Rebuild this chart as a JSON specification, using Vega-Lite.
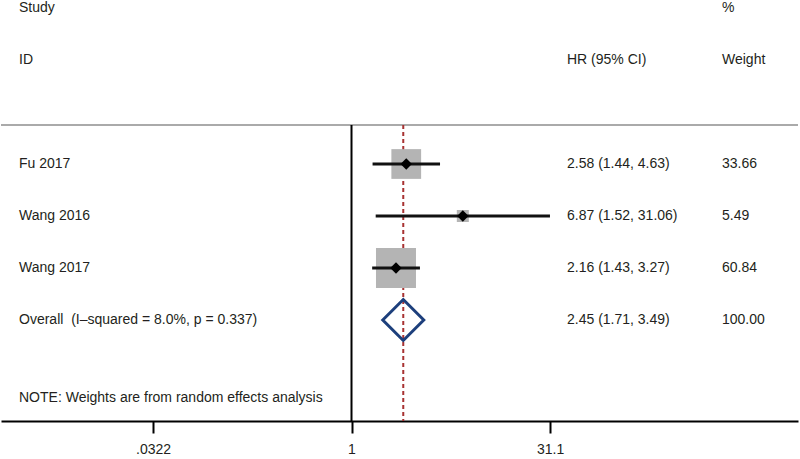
{
  "$schema": "https://vega.github.io/schema/vega-lite/v6.json",
  "width": 797,
  "height": 421,
  "padding": 0,
  "autosize": {"type": "pad"},
  "background": "white",
  "config": {
    "view": {"stroke": null},
    "font": "Liberation Sans",
    "text": {"font": "Liberation Sans", "fontSize": 14, "color": "#231f20", "align": "left", "baseline": "middle"}
  },
  "datasets": {
    "studies": [
      {"study": "Fu 2017", "row": 3, "hr": 2.58, "lo": 1.44, "hi": 4.63, "weight": 33.66},
      {"study": "Wang 2016", "row": 4, "hr": 6.87, "lo": 1.52, "hi": 31.06, "weight": 5.49},
      {"study": "Wang 2017", "row": 5, "hr": 2.16, "lo": 1.43, "hi": 3.27, "weight": 60.84}
    ],
    "overall": [
      {"study": "Overall", "row": 6, "hr": 2.45, "lo": 1.71, "hi": 3.49, "weight": 100}
    ],
    "table": [
      {"row": 0, "left": "Study", "ci": "", "weight": "%"},
      {"row": 1, "left": "ID", "ci": "HR (95% CI)", "weight": "Weight"},
      {"row": 3, "left": "Fu 2017", "ci": "2.58 (1.44, 4.63)", "weight": "33.66"},
      {"row": 4, "left": "Wang 2016", "ci": "6.87 (1.52, 31.06)", "weight": "5.49"},
      {"row": 5, "left": "Wang 2017", "ci": "2.16 (1.43, 3.27)", "weight": "60.84"},
      {"row": 6, "left": "Overall\u00a0 (I–squared = 8.0%, p = 0.337)", "ci": "2.45 (1.71, 3.49)", "weight": "100.00"},
      {"row": 7.5, "left": "NOTE: Weights are from random effects analysis", "ci": "", "weight": ""}
    ]
  },
  "layer": [
    {
      "data": {"values": [{"line": "separator"}]},
      "mark": {"type": "rule", "color": "#aaaaaa", "strokeWidth": 2},
      "encoding": {
        "y": {"datum": 2.25, "type": "quantitative", "scale": {"domain": [-0.1538, 7.9423], "reverse": true, "nice": false, "zero": false}, "axis": null}
      }
    },
    {
      "data": {"values": [{"line": "null"}]},
      "mark": {"type": "rule", "color": "#000000", "strokeWidth": 2},
      "encoding": {
        "x": {"datum": 1, "type": "quantitative",
          "scale": {"type": "log", "domain": [0.002315, 2276], "nice": false, "zero": false},
          "axis": {"values": [0.0322, 1, 31.1], "labelExpr": "datum.value < 0.05 ? '.0322' : (datum.value == 1 ? '1' : '31.1')", "title": null, "grid": false, "domainColor": "#000000", "domainWidth": 2, "tickColor": "#000000", "tickWidth": 2, "tickSize": 12, "labelFontSize": 14, "labelFont": "Liberation Sans", "labelColor": "#231f20", "labelPadding": 9, "labelFlush": false}},
        "y": {"datum": 2.25, "type": "quantitative", "axis": null},
        "y2": {"datum": 7.9423}
      }
    },
    {
      "data": {"name": "overall"},
      "mark": {"type": "rule", "color": "#a83232", "strokeWidth": 2, "strokeDash": [4, 3]},
      "encoding": {
        "x": {"field": "hr", "type": "quantitative"},
        "y": {"datum": 2.25, "type": "quantitative", "axis": null},
        "y2": {"datum": 7.9423}
      }
    },
    {
      "data": {"name": "studies"},
      "mark": {"type": "point", "shape": "square", "filled": true, "color": "#b4b4b4", "opacity": 1},
      "encoding": {
        "x": {"field": "hr", "type": "quantitative"},
        "y": {"field": "row", "type": "quantitative", "axis": null},
        "size": {"field": "weight", "type": "quantitative", "scale": {"domain": [0, 60.84], "range": [0, 1600]}, "legend": null}
      }
    },
    {
      "data": {"name": "studies"},
      "mark": {"type": "rule", "color": "#111111", "strokeWidth": 3},
      "encoding": {
        "x": {"field": "lo", "type": "quantitative"},
        "x2": {"field": "hi"},
        "y": {"field": "row", "type": "quantitative", "axis": null}
      }
    },
    {
      "data": {"name": "studies"},
      "mark": {"type": "point", "shape": "diamond", "filled": true, "color": "#000000", "opacity": 1, "size": 130},
      "encoding": {
        "x": {"field": "hr", "type": "quantitative"},
        "y": {"field": "row", "type": "quantitative", "axis": null}
      }
    },
    {
      "data": {"name": "overall"},
      "mark": {"type": "point", "shape": "diamond", "filled": false, "stroke": "#1d3f7c", "strokeWidth": 3, "opacity": 1, "size": 1681},
      "encoding": {
        "x": {"field": "hr", "type": "quantitative"},
        "y": {"field": "row", "type": "quantitative", "axis": null}
      }
    },
    {
      "data": {"name": "table"},
      "mark": {"type": "text"},
      "encoding": {
        "x": {"datum": 0.003162, "type": "quantitative"},
        "y": {"field": "row", "type": "quantitative", "axis": null},
        "text": {"field": "left"}
      }
    },
    {
      "data": {"name": "table"},
      "mark": {"type": "text"},
      "encoding": {
        "x": {"datum": 41.72, "type": "quantitative"},
        "y": {"field": "row", "type": "quantitative", "axis": null},
        "text": {"field": "ci"}
      }
    },
    {
      "data": {"name": "table"},
      "mark": {"type": "text"},
      "encoding": {
        "x": {"datum": 610.6, "type": "quantitative"},
        "y": {"field": "row", "type": "quantitative", "axis": null},
        "text": {"field": "weight"}
      }
    }
  ]
}
